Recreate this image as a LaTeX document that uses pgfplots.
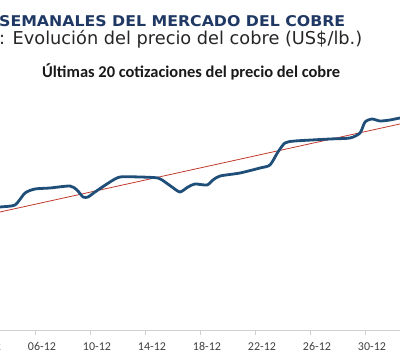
\documentclass[border=0pt]{standalone}
\usepackage{graphicx}
\usepackage{pgfplots}
\pgfplotsset{compat=1.18}
\usepackage{fontspec}
\setmainfont{DejaVu Sans}
\newfontfamily\calibri{Carlito}
\definecolor{navy}{HTML}{1F3864}
\definecolor{lineblue}{HTML}{1F4E79}
\definecolor{trendred}{HTML}{C0392B}
\definecolor{axisgray}{HTML}{D0D0D0}
\definecolor{labelgray}{HTML}{404040}
\begin{document}
\begin{tikzpicture}
\useasboundingbox (0,0) rectangle (400pt,353pt);
\clip (0,0) rectangle (400pt,353pt);
\node[anchor=base west, inner sep=0pt, text=navy, font=\fontsize{16}{18}\selectfont\bfseries] at (-1pt,326.3pt) {\resizebox{346pt}{11pt}{SEMANALES DEL MERCADO DEL COBRE}};
\node[anchor=base west, inner sep=0pt, text=black!85, font=\fontsize{15}{17}\selectfont] at (-1pt,308.5pt) {\resizebox{363pt}{!}{: Evolución del precio del cobre (US\$/lb.)}};
\node[anchor=base west, inner sep=0pt, text=black!90, font=\calibri\fontsize{14}{16}\selectfont\bfseries] at (42pt,275pt) {\resizebox{298pt}{!}{Últimas 20 cotizaciones del precio del cobre}};
\begin{axis}[
  at={(-40.5pt,23pt)}, anchor=south west,
  x=13.75pt, y=1pt,
  xmin=0, xmax=35, ymin=0, ymax=240,
  axis x line=bottom, axis y line=none,
  axis line style={axisgray, line width=0.8pt, -},
  xtick={2,6,10,14,18,22,26,30},
  xticklabels={02-12,06-12,10-12,14-12,18-12,22-12,26-12,30-12},
  major tick length=0pt,
  minor xtick={1.5,5.5,9.5,13.5,17.5,21.5,25.5,29.5,33.5},
  minor tick length=5pt,
  tick align=outside,
  minor tick style={axisgray, line width=0.8pt},
  xticklabel style={font=\calibri\fontsize{12}{14}\selectfont, text=labelgray, anchor=base, yshift=-20.5pt},
  ytick=\empty,
]
\addplot[trendred, line width=0.8pt] coordinates {(0,109.1) (35,215)};
\addplot[lineblue, line width=2.8pt, smooth, tension=0.4, line join=round] coordinates {
(2.0,121) (2.945,123) (4.036,125) (4.764,137) (5.491,141) (6.582,142) (8.036,144) (8.545,140)
(8.982,133) (9.345,133) (9.855,138) (10.945,148) (11.673,153) (13.127,153) (14.436,152)
(14.945,148) (15.455,143) (16.036,138) (16.618,143) (17.127,146) (18.0,145) (18.436,150)
(18.945,154) (20.4,157) (21.855,162) (22.58,165) (23.16,178) (23.67,187) (24.4,189)
(26.95,191) (28.4,192) (29.13,197) (29.49,208) (30.0,211) (30.58,209) (31.31,210)
(32.04,212) (32.8,213)
};
\end{axis}
\end{tikzpicture}
\end{document}
